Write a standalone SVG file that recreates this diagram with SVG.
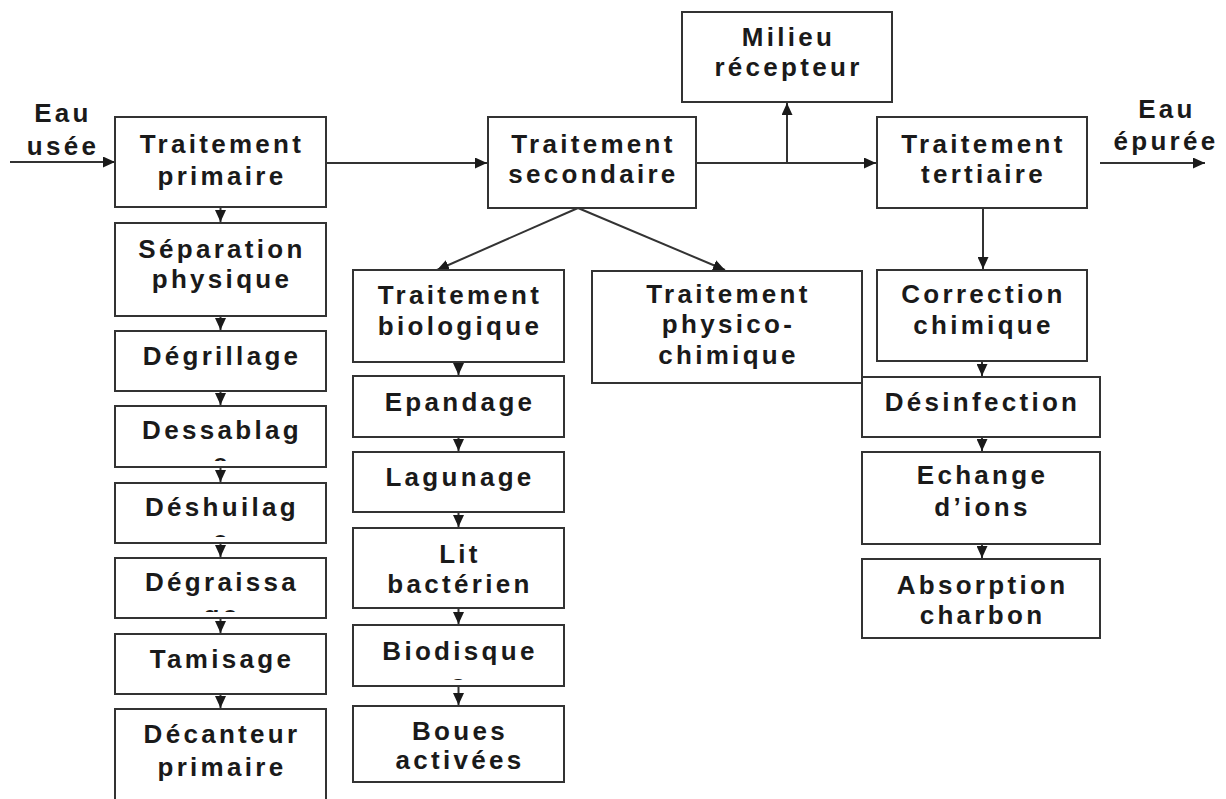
<svg xmlns="http://www.w3.org/2000/svg" width="1226" height="799" viewBox="0 0 1226 799">
<style>
.box{fill:#fff;stroke:#333;stroke-width:2}
.t{font-family:"Liberation Sans",Arial,sans-serif;font-weight:bold;font-size:26px;letter-spacing:3.3px;fill:#1a1a1a;text-anchor:middle}
.c{fill:none;stroke:#333;stroke-width:2}
</style>
<defs>
<marker id="ah" markerUnits="userSpaceOnUse" markerWidth="12" markerHeight="11" refX="12" refY="5.5" orient="auto">
<path d="M0,0 L12,5.5 L0,11 z" fill="#1a1a1a"/>
</marker>
<clipPath id="clDess"><rect x="115" y="406" width="211" height="55"/></clipPath>
<clipPath id="clDesh"><rect x="115" y="483" width="211" height="54"/></clipPath>
<clipPath id="clDegr"><rect x="115" y="558" width="211" height="54"/></clipPath>
<clipPath id="clBio"><rect x="353" y="625" width="211" height="55"/></clipPath>
</defs>
<rect width="1226" height="799" fill="#fff"/>

<g id="connectors">
<line class="c" x1="10" y1="162" x2="115" y2="162" marker-end="url(#ah)"/>
<line class="c" x1="326" y1="163" x2="487" y2="163" marker-end="url(#ah)"/>
<line class="c" x1="696" y1="163" x2="876" y2="163" marker-end="url(#ah)"/>
<line class="c" x1="787" y1="163" x2="787" y2="103" marker-end="url(#ah)"/>
<line class="c" x1="1100" y1="163" x2="1205" y2="163" marker-end="url(#ah)"/>
<line class="c" x1="983" y1="208" x2="983" y2="269" marker-end="url(#ah)"/>
<line class="c" x1="578" y1="208" x2="437" y2="270" marker-end="url(#ah)"/>
<line class="c" x1="578" y1="208" x2="725" y2="270" marker-end="url(#ah)"/>
<line class="c" x1="220.5" y1="207" x2="220.5" y2="222" marker-end="url(#ah)"/>
<line class="c" x1="220.5" y1="316" x2="220.5" y2="330" marker-end="url(#ah)"/>
<line class="c" x1="220.5" y1="391" x2="220.5" y2="405" marker-end="url(#ah)"/>
<line class="c" x1="220.5" y1="467" x2="220.5" y2="482" marker-end="url(#ah)"/>
<line class="c" x1="220.5" y1="543" x2="220.5" y2="557" marker-end="url(#ah)"/>
<line class="c" x1="220.5" y1="618" x2="220.5" y2="633" marker-end="url(#ah)"/>
<line class="c" x1="220.5" y1="694" x2="220.5" y2="708" marker-end="url(#ah)"/>
<line class="c" x1="458.5" y1="362" x2="458.5" y2="375" marker-end="url(#ah)"/>
<line class="c" x1="458.5" y1="437" x2="458.5" y2="451" marker-end="url(#ah)"/>
<line class="c" x1="458.5" y1="512" x2="458.5" y2="527" marker-end="url(#ah)"/>
<line class="c" x1="458.5" y1="608" x2="458.5" y2="624" marker-end="url(#ah)"/>
<line class="c" x1="458.5" y1="686" x2="458.5" y2="705" marker-end="url(#ah)"/>
<line class="c" x1="982" y1="361" x2="982" y2="376" marker-end="url(#ah)"/>
<line class="c" x1="982" y1="437" x2="982" y2="451" marker-end="url(#ah)"/>
<line class="c" x1="982" y1="544" x2="982" y2="558" marker-end="url(#ah)"/>
</g>

<g id="eau-usee">
<text class="t" x="63" y="122">Eau</text>
<text class="t" x="63" y="155">usée</text>
</g>
<g id="eau-epuree">
<text class="t" x="1167" y="118">Eau</text>
<text class="t" x="1166" y="150">épurée</text>
</g>

<g id="traitement-primaire">
<rect class="box" x="115" y="117" width="211" height="90"/>
<text class="t" x="222" y="153">Traitement</text>
<text class="t" x="222" y="185">primaire</text>
</g>
<g id="separation-physique">
<rect class="box" x="115" y="223" width="211" height="93"/>
<text class="t" x="222" y="258">Séparation</text>
<text class="t" x="222" y="288">physique</text>
</g>
<g id="degrillage">
<rect class="box" x="115" y="331" width="211" height="60"/>
<text class="t" x="222" y="365">Dégrillage</text>
</g>
<g id="dessablage">
<rect class="box" x="115" y="406" width="211" height="61"/>
<g clip-path="url(#clDess)">
<text class="t" x="222" y="439">Dessablag</text>
<text class="t" x="222" y="472">e</text>
</g>
</g>
<g id="deshuilage">
<rect class="box" x="115" y="483" width="211" height="60"/>
<g clip-path="url(#clDesh)">
<text class="t" x="222" y="516">Déshuilag</text>
<text class="t" x="222" y="549">e</text>
</g>
</g>
<g id="degraissage">
<rect class="box" x="115" y="558" width="211" height="60"/>
<g clip-path="url(#clDegr)">
<text class="t" x="222" y="591">Dégraissa</text>
<text class="t" x="222" y="624">ge</text>
</g>
</g>
<g id="tamisage">
<rect class="box" x="115" y="634" width="211" height="60"/>
<text class="t" x="222" y="668">Tamisage</text>
</g>
<g id="decanteur-primaire">
<rect class="box" x="115" y="709" width="211" height="110"/>
<text class="t" x="222" y="743">Décanteur</text>
<text class="t" x="222" y="776">primaire</text>
</g>

<g id="traitement-secondaire">
<rect class="box" x="488" y="117" width="208" height="91"/>
<text class="t" x="593.5" y="153">Traitement</text>
<text class="t" x="593.5" y="183">secondaire</text>
</g>
<g id="traitement-biologique">
<rect class="box" x="353" y="270" width="211" height="92"/>
<text class="t" x="460" y="304">Traitement</text>
<text class="t" x="460" y="335">biologique</text>
</g>
<g id="epandage">
<rect class="box" x="353" y="376" width="211" height="61"/>
<text class="t" x="460" y="411">Epandage</text>
</g>
<g id="lagunage">
<rect class="box" x="353" y="452" width="211" height="60"/>
<text class="t" x="460" y="486">Lagunage</text>
</g>
<g id="lit-bacterien">
<rect class="box" x="353" y="528" width="211" height="80"/>
<text class="t" x="460" y="563">Lit</text>
<text class="t" x="460" y="593">bactérien</text>
</g>
<g id="biodisque">
<rect class="box" x="353" y="625" width="211" height="61"/>
<g clip-path="url(#clBio)">
<text class="t" x="460" y="660">Biodisque</text>
<text class="t" x="460" y="693">s</text>
</g>
</g>
<g id="boues-activees">
<rect class="box" x="353" y="706" width="211" height="76"/>
<text class="t" x="460" y="740">Boues</text>
<text class="t" x="460" y="769">activées</text>
</g>

<g id="traitement-physico-chimique">
<rect class="box" x="592" y="271" width="270" height="112"/>
<text class="t" x="728.5" y="303">Traitement</text>
<text class="t" x="728.5" y="333">physico-</text>
<text class="t" x="728.5" y="364">chimique</text>
</g>

<g id="milieu-recepteur">
<rect class="box" x="682" y="12" width="210" height="90"/>
<text class="t" x="788.5" y="46">Milieu</text>
<text class="t" x="788.5" y="76">récepteur</text>
</g>

<g id="traitement-tertiaire">
<rect class="box" x="877" y="117" width="210" height="91"/>
<text class="t" x="983.5" y="153">Traitement</text>
<text class="t" x="983.5" y="183">tertiaire</text>
</g>
<g id="correction-chimique">
<rect class="box" x="877" y="270" width="210" height="91"/>
<text class="t" x="983.5" y="303">Correction</text>
<text class="t" x="983.5" y="334">chimique</text>
</g>
<g id="desinfection">
<rect class="box" x="862" y="377" width="238" height="60"/>
<text class="t" x="982.5" y="411">Désinfection</text>
</g>
<g id="echange-ions">
<rect class="box" x="862" y="452" width="238" height="92"/>
<text class="t" x="982.5" y="484">Echange</text>
<text class="t" x="982.5" y="516">d’ions</text>
</g>
<g id="absorption-charbon">
<rect class="box" x="862" y="559" width="238" height="79"/>
<text class="t" x="982.5" y="594">Absorption</text>
<text class="t" x="982.5" y="624">charbon</text>
</g>
</svg>
